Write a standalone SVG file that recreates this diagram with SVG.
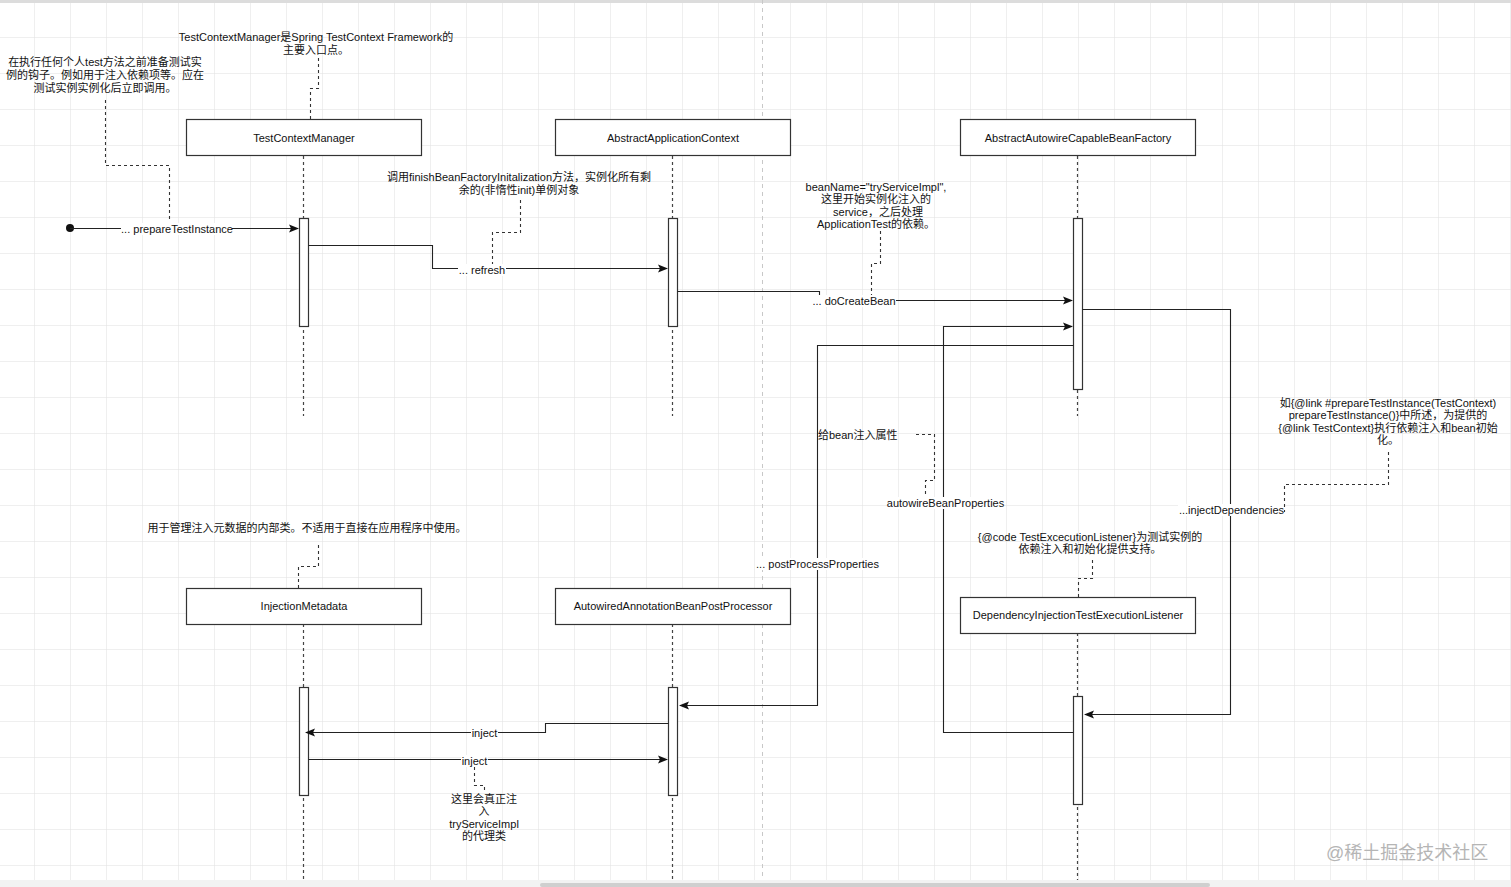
<svg xmlns="http://www.w3.org/2000/svg" width="1511" height="887" viewBox="0 0 1511 887">
<style>
text{font-family:"Liberation Sans","Noto Sans CJK SC",sans-serif;font-size:11px;fill:#111}
.c{text-anchor:middle}
.box{fill:#fff;stroke:#333;stroke-width:1.2}
.act{fill:#fff;stroke:#333;stroke-width:1.2}
.life{stroke:#444;stroke-width:1.2;stroke-dasharray:3 3;fill:none}
.msg{stroke:#222;stroke-width:1.1;fill:none}
.note{stroke:#333;stroke-width:1.1;stroke-dasharray:3 3;fill:none}
.lbg{fill:#fff}
</style>
<defs>
<pattern id="grid" x="-2" y="1" width="36" height="36" patternUnits="userSpaceOnUse">
<path d="M0 0H36M0 0V36" fill="none" stroke="#e0e0e0" stroke-width="1"/>
</pattern>
<marker id="arr" viewBox="0 0 10 10" refX="9" refY="5" markerWidth="10" markerHeight="10" markerUnits="userSpaceOnUse" orient="auto">
<path d="M0 1L10 5L0 9L2 5Z" fill="#111"/>
</marker>
</defs>
<rect width="1511" height="887" fill="#fff"/>
<rect width="1511" height="880" fill="url(#grid)"/>
<rect width="1511" height="3" fill="#dcdcdc"/>
<rect y="880" width="1511" height="7" fill="#f2f2f2"/>
<rect x="540" y="883" width="670" height="4" rx="2" fill="#cfcfcf"/>
<line x1="762.5" y1="0" x2="762.5" y2="880" stroke="#c8c8c8" stroke-dasharray="4 4"/>

<g id="lifelines">
<path class="life" d="M303.5 156V416M672.5 156V416M1077.5 156V416M303.5 624V880M672.5 624V880M1077.5 633V880"/>
</g>

<g id="n-TestContextManager"><rect class="box" x="186.5" y="119.5" width="235" height="36"/><text class="c" x="304" y="142">TestContextManager</text></g>
<g id="n-AbstractApplicationContext"><rect class="box" x="555.5" y="119.5" width="235" height="36"/><text class="c" x="673" y="142">AbstractApplicationContext</text></g>
<g id="n-AbstractAutowireCapableBeanFactory"><rect class="box" x="960.5" y="119.5" width="235" height="36"/><text class="c" x="1078" y="142">AbstractAutowireCapableBeanFactory</text></g>
<g id="n-InjectionMetadata"><rect class="box" x="186.5" y="588.5" width="235" height="36"/><text class="c" x="304" y="610">InjectionMetadata</text></g>
<g id="n-AutowiredAnnotationBeanPostProcessor"><rect class="box" x="555.5" y="588.5" width="235" height="36"/><text class="c" x="673" y="610">AutowiredAnnotationBeanPostProcessor</text></g>
<g id="n-DependencyInjectionTestExecutionListener"><rect class="box" x="960.5" y="597.5" width="235" height="36"/><text class="c" x="1078" y="619">DependencyInjectionTestExecutionListener</text></g>

<g id="activations">
<rect class="act" x="299.5" y="218.5" width="9" height="108"/>
<rect class="act" x="668.5" y="218.5" width="9" height="108"/>
<rect class="act" x="1073.5" y="218.5" width="9" height="171"/>
<rect class="act" x="299.5" y="687.5" width="9" height="108"/>
<rect class="act" x="668.5" y="687.5" width="9" height="108"/>
<rect class="act" x="1073.5" y="696.5" width="9" height="108"/>
</g>

<g id="connectors">
<circle cx="70" cy="228" r="4" fill="#111"/>
<path class="msg" d="M70 228.5H298" marker-end="url(#arr)"/>
<path class="msg" d="M308.5 245.5H432.5V268.5H667" marker-end="url(#arr)"/>
<path class="msg" d="M677.5 291.5H819.5V300.5H1072" marker-end="url(#arr)"/>
<path class="msg" d="M1082.5 309.5H1230.5V714.5H1085" marker-end="url(#arr)"/>
<path class="msg" d="M1073.5 732.5H943.5V326.5H1072" marker-end="url(#arr)"/>
<path class="msg" d="M1073.5 345.5H817.5V705.5H680" marker-end="url(#arr)"/>
<path class="msg" d="M668.5 723.5H545.5V732.5H306" marker-end="url(#arr)"/>
<path class="msg" d="M308.5 759.5H667" marker-end="url(#arr)"/>

<rect class="lbg" x="121" y="223" width="111" height="12"/>
<text class="c" x="177" y="233">... prepareTestInstance</text>
<rect class="lbg" x="458" y="264" width="48" height="12"/>
<text class="c" x="482" y="274">... refresh</text>
<rect class="lbg" x="812" y="295" width="84" height="12"/>
<text class="c" x="854" y="305">... doCreateBean</text>
<rect class="lbg" x="1178" y="504" width="107" height="12"/>
<text class="c" x="1231.5" y="514">...injectDependencies</text>
<rect class="lbg" x="887" y="497" width="117" height="12"/>
<text class="c" x="945.5" y="507">autowireBeanProperties</text>
<rect class="lbg" x="756" y="558" width="123" height="12"/>
<text class="c" x="817.5" y="568">... postProcessProperties</text>
<rect class="lbg" x="471" y="727" width="27" height="12"/>
<text class="c" x="484.5" y="737">inject</text>
<rect class="lbg" x="461" y="755" width="27" height="12"/>
<text class="c" x="474.5" y="765">inject</text>
</g>

<g id="notes">
<g id="note-prepare">
<text class="c" x="105" y="66">在执行任何个人test方法之前准备测试实</text>
<text class="c" x="105" y="79">例的钩子。例如用于注入依赖项等。应在</text>
<text class="c" x="105" y="92">测试实例实例化后立即调用。</text>
<path class="note" d="M105.5 100V165.5H169.5V222"/>
</g>
<g id="note-tcm">
<text class="c" x="316" y="41">TestContextManager是Spring TestContext Framework的</text>
<text class="c" x="316" y="54">主要入口点。</text>
<path class="note" d="M318.5 58V88.5H310.5V119"/>
</g>
<g id="note-refresh">
<text class="c" x="519" y="181">调用finishBeanFactoryInitalization方法，实例化所有剩</text>
<text class="c" x="519" y="194">余的(非惰性init)单例对象</text>
<path class="note" d="M520.5 200V232.5H492.5V264"/>
</g>
<g id="note-docreate">
<text class="c" x="876" y="191">beanName="tryServiceImpl",</text>
<text class="c" x="876" y="203">这里开始实例化注入的</text>
<text class="c" x="878" y="216">service，之后处理</text>
<text class="c" x="876" y="228">ApplicationTest的依赖。</text>
<path class="note" d="M880.5 231V263.5H871.5V295"/>
</g>
<g id="note-autowire">
<text x="818" y="439">给bean注入属性</text>
<path class="note" d="M916 434.5H934.5V480.5H925.5V497"/>
</g>
<g id="note-inject-deps">
<text class="c" x="1388" y="407">如{@link #prepareTestInstance(TestContext)</text>
<text class="c" x="1388" y="419">prepareTestInstance()}中所述，为提供的</text>
<text class="c" x="1388" y="432">{@link TestContext}执行依赖注入和bean初始</text>
<text class="c" x="1388" y="444">化。</text>
<path class="note" d="M1388.5 452V484.5H1284.5V512"/>
</g>
<g id="note-listener">
<text class="c" x="1090" y="541">{@code TestExcecutionListener}为测试实例的</text>
<text class="c" x="1090" y="553">依赖注入和初始化提供支持。</text>
<path class="note" d="M1092.5 560V578.5H1078.5V597"/>
</g>
<g id="note-metadata">
<text class="c" x="307" y="532">用于管理注入元数据的内部类。不适用于直接在应用程序中使用。</text>
<path class="note" d="M318.5 545V566.5H298.5V588"/>
</g>
<g id="note-proxy">
<text class="c" x="484" y="803">这里会真正注</text>
<text class="c" x="484" y="815">入</text>
<text class="c" x="484" y="828">tryServiceImpl</text>
<text class="c" x="484" y="840">的代理类</text>
<path class="note" d="M474.5 767V785.5H484.5V793"/>
</g>
</g>

<text x="1326" y="859" style="font-size:18px;fill:#b5b5b5">@稀土掘金技术社区</text>
</svg>
